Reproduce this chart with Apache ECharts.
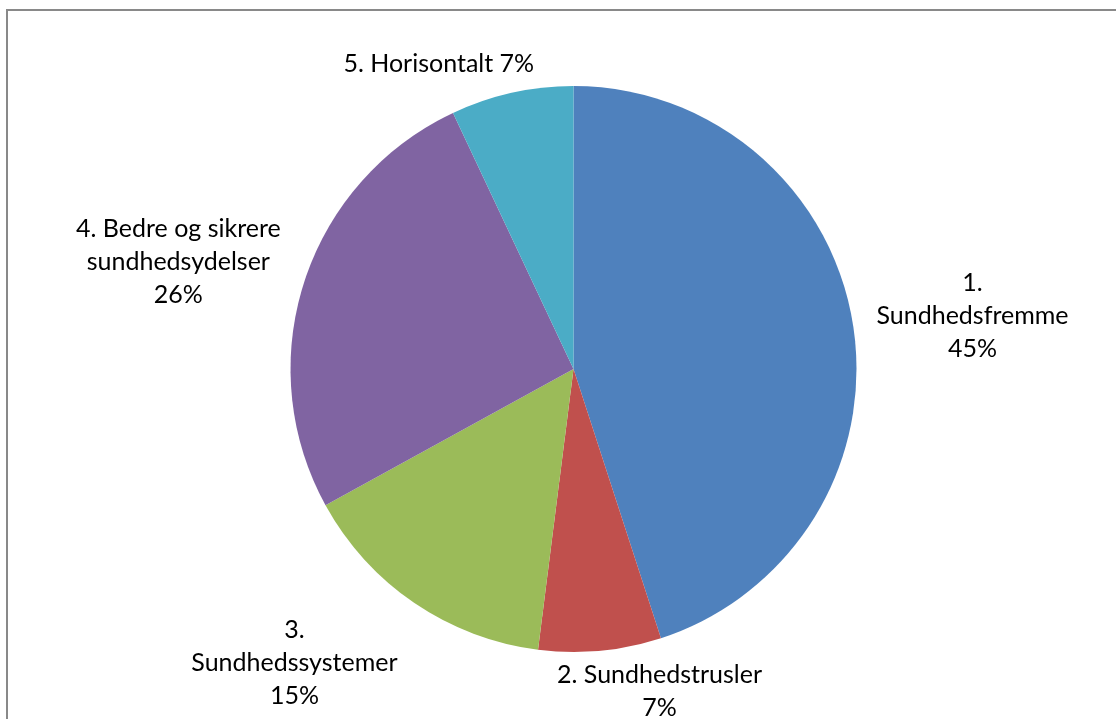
<!DOCTYPE html>
<html>
<head>
<meta charset="utf-8">
<script src="https://cdn.jsdelivr.net/npm/echarts@6/dist/echarts.min.js"></script>
<style>
html,body{margin:0;padding:0;background:#fff;}
#chart{width:1116px;height:719px;}
</style>
</head>
<body>
<div id="chart"></div>
<script>
// Data
var categories = ['1.\nSundhedsfremme', '2. Sundhedstrusler', '3.\nSundhedssystemer', '4. Bedre og sikrere\nsundhedsydelser', '5. Horisontalt'];
var values = [45, 7, 15, 26, 7];
var labelSeparators = ['\n', '\n', '\n', '\n', ' '];
var colors = ['#4F81BD', '#C0504D', '#9BBB59', '#8064A2', '#4BACC6'];

// Layout (not data)
var CX = 573.5, CY = 369, R = 283;
// label box centre offset from the slice's mid-angle point on the rim
var labelOffsets = [[119.5, -8.7], [59.4, 40.8], [-120, 60], [-126, -19.5], [-73, -29]];

var total = values.reduce(function (a, b) { return a + b; }, 0);
function midAngle(i) {
  var before = 0;
  for (var k = 0; k < i; k++) before += values[k];
  return (before + values[i] / 2) / total * 2 * Math.PI; // clockwise from top
}

var chart = echarts.init(document.getElementById('chart'), null, {renderer: 'canvas'});
chart.setOption({
  animation: false,
  backgroundColor: '#ffffff',
  graphic: [{
    type: 'rect',
    shape: {x: 7, y: 10, width: 1200, height: 800},
    style: {fill: 'none', stroke: '#898989', lineWidth: 2},
    silent: true
  }],
  series: [{
    type: 'pie',
    center: [CX, CY],
    radius: R,
    startAngle: 90,
    clockwise: true,
    avoidLabelOverlap: false,
    data: categories.map(function (c, i) {
      return {name: c, value: values[i], itemStyle: {color: colors[i]}};
    }),
    itemStyle: {borderWidth: 0},
    label: {
      show: true,
      position: 'outside',
      fontFamily: 'Lato',
      fontSize: 25,
      lineHeight: 33,
      color: '#000000',
      formatter: function (p) {
        return p.name + labelSeparators[p.dataIndex] + Math.round(p.percent) + '%';
      }
    },
    labelLine: {show: false},
    labelLayout: function (params) {
      var i = params.dataIndex;
      var a = midAngle(i);
      var px = CX + R * Math.sin(a);
      var py = CY - R * Math.cos(a);
      return {
        x: px + labelOffsets[i][0],
        y: py + labelOffsets[i][1],
        align: 'center',
        verticalAlign: 'middle'
      };
    },
    emphasis: {disabled: true}
  }]
});
</script>
</body>
</html>
